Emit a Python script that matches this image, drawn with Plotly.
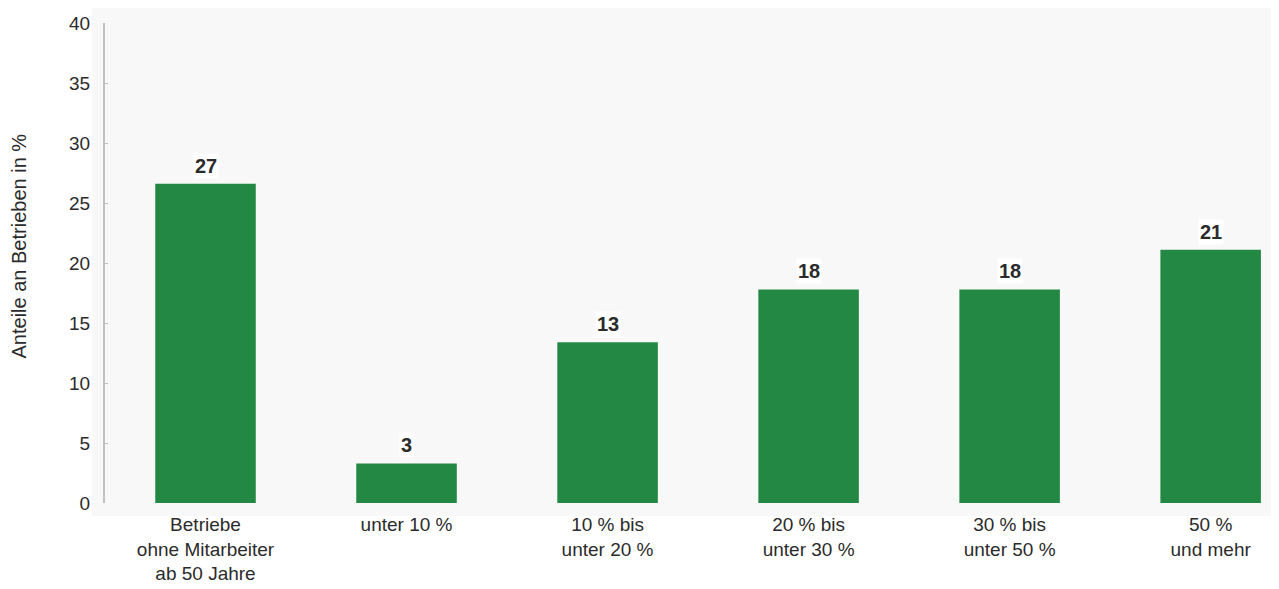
import plotly.graph_objects as go

categories = [
    "Betriebe<br>ohne Mitarbeiter<br>ab 50 Jahre",
    "unter 10 %",
    "10 % bis<br>unter 20 %",
    "20 % bis<br>unter 30 %",
    "30 % bis<br>unter 50 %",
    "50 %<br>und mehr",
]
values = [26.6, 3.3, 13.4, 17.8, 17.8, 21.1]
value_labels = ["27", "3", "13", "18", "18", "21"]
y_ticks = [0, 5, 10, 15, 20, 25, 30, 35, 40]

FONT = "Liberation Sans, Arial, sans-serif"
BAR = "#238843"
TXT = "#2b2b2b"

fig = go.Figure()
fig.add_trace(go.Bar(
    x=categories, y=values,
    marker=dict(color=BAR, line=dict(width=0)),
    hoverinfo="skip",
))

annotations = []
for c, v, t in zip(categories, values, value_labels):
    annotations.append(dict(
        x=c, y=v, xref="x", yref="y", text="<b>" + t + "</b>",
        showarrow=False, yanchor="bottom", yshift=5,
        font=dict(family=FONT, size=20, color=TXT),
        bgcolor="white", borderpad=1,
    ))
annotations.append(dict(
    x=-0.073, y=0.535, xref="paper", yref="paper",
    text="Anteile an Betrieben in %", textangle=-90, showarrow=False,
    xanchor="center", yanchor="middle",
    font=dict(family=FONT, size=20, color=TXT),
))

fig.update_layout(
    width=1271, height=581,
    margin=dict(l=97, r=0, t=15, b=86),
    paper_bgcolor="white",
    plot_bgcolor="rgba(0,0,0,0)",
    bargap=0.5,
    showlegend=False,
    font=dict(family=FONT, size=19, color=TXT),
    annotations=annotations,
    shapes=[dict(
        type="rect", xref="paper", yref="paper", layer="below",
        x0=-0.011, x1=1.0, y0=-0.027, y1=1.031,
        fillcolor="#f8f8f8", line=dict(width=0),
    )],
    xaxis=dict(
        range=[-0.5, 5.34], showline=False, showgrid=False, zeroline=False,
        ticks="", tickfont=dict(family=FONT, size=19, color=TXT),
        ticklabelstandoff=8,
        fixedrange=True,
    ),
    yaxis=dict(
        range=[0, 40], tickvals=y_ticks, showgrid=False, zeroline=False,
        showline=True, linecolor="#c4bfc0", linewidth=2,
        ticks="inside", ticklen=3, tickcolor="#c4bfc0",
        ticklabelstandoff=9,
        tickfont=dict(family=FONT, size=19, color=TXT),
        fixedrange=True,
    ),
)

fig.write_html("out.html")
